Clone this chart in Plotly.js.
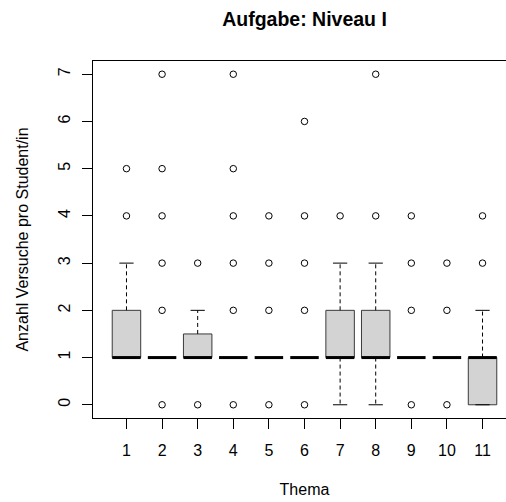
<!DOCTYPE html>
<html>
<head>
<meta charset="utf-8">
<script src="https://cdn.plot.ly/plotly-3.0.1.min.js"></script>
<style>
html,body{margin:0;padding:0;overflow:hidden;background:#fff;}
#chart{width:517px;height:502px;}
</style>
</head>
<body>
<div id="chart"></div>
<script>
// Data (Anzahl Versuche pro Student/in je Thema)
const themes   = [1, 2, 3, 4, 5, 6, 7, 8, 9, 10, 11];
const tickText = ["1","2","3","4","5","6","7","8","9","10","11"];
const q1       = [1, 1, 1,   1, 1, 1, 1, 1, 1, 1, 0];
const median   = [1, 1, 1,   1, 1, 1, 1, 1, 1, 1, 1];
const q3       = [2, 1, 1.5, 1, 1, 1, 2, 2, 1, 1, 1];
const lowerW   = [1, 1, 1,   1, 1, 1, 0, 0, 1, 1, 0];
const upperW   = [3, 1, 2,   1, 1, 1, 3, 3, 1, 1, 2];
const outliers = [
  [4, 5],
  [0, 2, 3, 4, 5, 7],
  [0, 3],
  [0, 2, 3, 4, 5, 7],
  [0, 2, 3, 4],
  [0, 2, 3, 4, 6],
  [4],
  [4, 7],
  [0, 2, 3, 4],
  [0, 2, 3],
  [3, 4]
];

const halfBox = 0.4, halfCap = 0.2;
const boxX = [], boxY = [], medX = [], medY = [], whX = [], whY = [], capX = [], capY = [], outX = [], outY = [];
themes.forEach((t, i) => {
  if (q3[i] > q1[i]) {
    boxX.push(t - halfBox, t + halfBox, t + halfBox, t - halfBox, t - halfBox, null);
    boxY.push(q1[i], q1[i], q3[i], q3[i], q1[i], null);
  }
  medX.push(t - halfBox, t + halfBox, null);
  medY.push(median[i], median[i], null);
  if (upperW[i] > q3[i]) {
    whX.push(t, t, null); whY.push(q3[i], upperW[i], null);
  }
  if (lowerW[i] < q1[i]) {
    whX.push(t, t, null); whY.push(q1[i], lowerW[i], null);
  }
  [upperW[i], lowerW[i]].forEach(v => {
    capX.push(t - halfCap, t + halfCap, null); capY.push(v, v, null);
  });
  outliers[i].forEach(v => { outX.push(t); outY.push(v); });
});

const traces = [
  {x: boxX, y: boxY, type: 'scatter', mode: 'lines', fill: 'toself', fillcolor: '#d3d3d3',
   line: {color: '#3a3a3a', width: 1}, hoverinfo: 'skip', showlegend: false},
  {x: whX, y: whY, type: 'scatter', mode: 'lines', line: {color: '#000', width: 1, dash: '4px,3px'},
   hoverinfo: 'skip', showlegend: false},
  {x: capX, y: capY, type: 'scatter', mode: 'lines', line: {color: '#000', width: 1},
   hoverinfo: 'skip', showlegend: false},
  {x: medX, y: medY, type: 'scatter', mode: 'lines', line: {color: '#000', width: 3},
   hoverinfo: 'skip', showlegend: false},
  {x: outX, y: outY, type: 'scatter', mode: 'markers',
   marker: {symbol: 'circle-open', size: 6.5, color: '#000', line: {width: 1, color: '#000'}},
   hoverinfo: 'skip', showlegend: false}
];

const font = 'Liberation Sans, Arial, sans-serif';
const layout = {
  width: 517, height: 502,
  margin: {l: 93, r: 1, t: 61, b: 84},
  paper_bgcolor: '#fff', plot_bgcolor: '#fff',
  font: {family: font, size: 16, color: '#000'},
  title: {text: '<b>Aufgabe: Niveau I</b>', font: {family: font, size: 19.5, color: '#000'},
          x: 0.5, xanchor: 'center', xref: 'paper', y: 1 - 19/502, yanchor: 'middle', yref: 'container'},
  xaxis: {
    range: [0.06, 11.94], tickvals: themes, ticktext: tickText,
    showgrid: false, zeroline: false, showline: true, mirror: true, linecolor: '#000', linewidth: 1,
    ticks: 'outside', ticklen: 10, tickcolor: '#000', tickwidth: 1, ticklabelstandoff: 8,
    tickfont: {family: font, size: 16, color: '#000'},
    title: {text: 'Thema', font: {family: font, size: 16, color: '#000'}, standoff: 25}
  },
  yaxis: {
    range: [-0.28, 7.28], tickvals: [0,1,2,3,4,5,6,7], ticktext: ['0','1','2','3','4','5','6','7'],
    showgrid: false, zeroline: false, showline: true, mirror: true, linecolor: '#000', linewidth: 1,
    ticks: 'outside', ticklen: 10, tickcolor: '#000', tickwidth: 1, tickangle: -90, ticklabelstandoff: 6,
    tickfont: {family: font, size: 16, color: '#000'},
    title: {text: 'Anzahl Versuche pro Student/in', font: {family: font, size: 16, color: '#000'}, standoff: 22}
  }
};

Plotly.newPlot('chart', traces, layout, {staticPlot: true, displayModeBar: false});
</script>
</body>
</html>
